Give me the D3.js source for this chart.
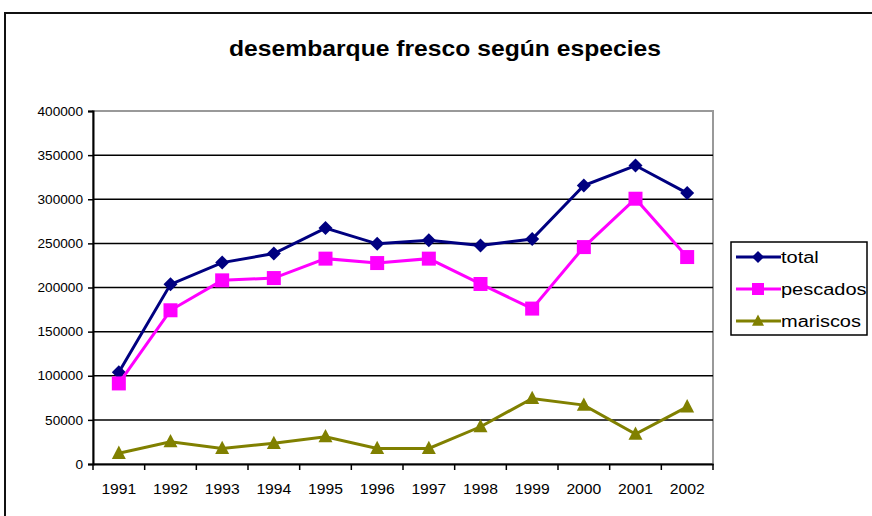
<!DOCTYPE html>
<html>
<head>
<meta charset="utf-8">
<script src="https://cdn.jsdelivr.net/npm/d3@7"></script>
<style>
body { margin: 0; background: #fff; }
svg { display: block; font-family: "Liberation Sans", Arial, sans-serif; }
</style>
</head>
<body>
<svg id="chart"></svg>
<script>
var width = 872;
var height = 516;

var years = ["1991", "1992", "1993", "1994", "1995", "1996", "1997", "1998", "1999", "2000", "2001", "2002"];
var total = [104000, 203600, 228200, 238500, 267300, 249500, 253400, 247700, 255000, 315600, 338200, 307000];
var pescados = [91300, 174200, 208100, 210700, 232700, 227700, 232700, 204000, 176100, 245800, 300600, 234500];
var mariscos = [12100, 25200, 17700, 23400, 30900, 17700, 17700, 42200, 74300, 66700, 33900, 64800];
var yTicks = [0, 50000, 100000, 150000, 200000, 250000, 300000, 350000, 400000];

var series = [
	{name: "total", values: total, color: "#000080", marker: "diamond"},
	{name: "pescados", values: pescados, color: "#ff00ff", marker: "square"},
	{name: "mariscos", values: mariscos, color: "#808000", marker: "triangle"}
];

var plot = {left: 93, top: 111, right: 713, bottom: 464};

var svg = d3.select("#chart")
.attr("width", width)
.attr("height", height);

// outer chart frame
svg.append("rect")
.attr("x", 5)
.attr("y", 13)
.attr("width", 880)
.attr("height", 520)
.attr("fill", "#fff")
.attr("stroke", "#111")
.attr("stroke-width", 2);

svg.append("text")
.attr("x", 445)
.attr("y", 56)
.attr("text-anchor", "middle")
.attr("textLength", 432)
.attr("lengthAdjust", "spacingAndGlyphs")
.style("font-size", "22px")
.style("font-weight", "bold")
.text("desembarque fresco según especies");

var x = d3.scaleBand()
.domain(years)
.range([plot.left, plot.right]);

var y = d3.scaleLinear()
.domain([0, 400000])
.range([plot.bottom, plot.top]);

// plot area border (gray top/right)
svg.append("rect")
.attr("x", plot.left)
.attr("y", plot.top)
.attr("width", plot.right - plot.left)
.attr("height", plot.bottom - plot.top)
.attr("fill", "#fff")
.attr("stroke", "#999")
.attr("stroke-width", 2);

// gridlines
svg.append("g")
.selectAll("line")
.data(yTicks.slice(1, -1))
.enter()
.append("line")
.attr("x1", plot.left)
.attr("x2", plot.right)
.attr("y1", function (d) { return y(d); })
.attr("y2", function (d) { return y(d); })
.attr("stroke", "#000")
.attr("stroke-width", 1.5);

var yAxis = svg.append("g")
.attr("transform", "translate(" + plot.left + ",0)")
.call(d3.axisLeft(y).tickValues(yTicks).tickFormat(d3.format("d")).tickSize(5).tickPadding(4));

yAxis.select(".domain").attr("stroke", "#000").attr("stroke-width", 2);
yAxis.selectAll(".tick line").attr("stroke", "#000").attr("stroke-width", 1.5);
yAxis.selectAll("text")
.style("font-size", "13px")
.attr("fill", "#000")
.attr("x", -10 / 1.05)
.attr("transform", "scale(1.05,1)");

var xAxis = svg.append("g")
.attr("transform", "translate(0," + plot.bottom + ")")
.call(d3.axisBottom(x).tickSize(0).tickPadding(20));

xAxis.select(".domain").attr("stroke", "#000").attr("stroke-width", 2);
xAxis.selectAll("text")
.style("font-size", "14px")
.attr("fill", "#000")
.attr("transform", "scale(1.12,1)");

// category boundary ticks
xAxis.selectAll(".bound")
.data(years.concat(["end"]))
.enter()
.append("line")
.attr("class", "bound")
.attr("x1", function (d, i) { return plot.left + i * x.step(); })
.attr("x2", function (d, i) { return plot.left + i * x.step(); })
.attr("y1", 0)
.attr("y2", 6)
.attr("stroke", "#000")
.attr("stroke-width", 1.5);

var line = d3.line()
.x(function (d, i) { return x(years[i]) + x.bandwidth() / 2; })
.y(function (d) { return y(d); });

function markerPath (type, s) {
	if (type == "diamond")
		return "M0," + (-s) + "L" + s + ",0L0," + s + "L" + (-s) + ",0Z";
	if (type == "square")
		return "M" + (-s) + "," + (-s) + "h" + (2 * s) + "v" + (2 * s) + "h" + (-2 * s) + "Z";
	return "M0," + (-s * 1.1) + "L" + s + "," + (s * 0.8) + "L" + (-s) + "," + (s * 0.8) + "Z";
}

series.forEach(function (s) {
	svg.append("path")
	.datum(s.values)
	.attr("d", line)
	.attr("fill", "none")
	.attr("stroke", s.color)
	.attr("stroke-width", 3);

	svg.append("g")
	.selectAll("path")
	.data(s.values)
	.enter()
	.append("path")
	.attr("transform", function (d, i) {
		return "translate(" + (x(years[i]) + x.bandwidth() / 2) + "," + y(d) + ")";
	})
	.attr("d", markerPath(s.marker, 7))
	.attr("fill", s.color);
});

// legend
var legend = svg.append("g");
var legendScale = 1.25;

legend.append("rect")
.attr("x", 731)
.attr("y", 242)
.attr("width", 136)
.attr("height", 93)
.attr("fill", "#fff")
.attr("stroke", "#000")
.attr("stroke-width", 1.5);

series.forEach(function (s, i) {
	var ly = 257 + i * 32;

	legend.append("line")
	.attr("x1", 736)
	.attr("x2", 781)
	.attr("y1", ly)
	.attr("y2", ly)
	.attr("stroke", s.color)
	.attr("stroke-width", 3);

	legend.append("path")
	.attr("transform", "translate(758," + ly + ")")
	.attr("d", markerPath(s.marker, 6))
	.attr("fill", s.color);

	legend.append("text")
	.attr("x", 781 / legendScale)
	.attr("y", ly)
	.attr("dy", "0.35em")
	.attr("transform", "scale(" + legendScale + ",1)")
	.style("font-size", "16px")
	.text(s.name);
});
</script>
</body>
</html>
